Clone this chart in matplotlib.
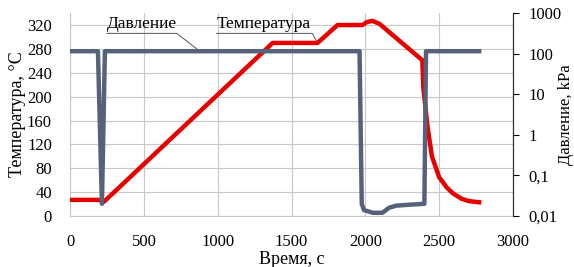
import matplotlib.pyplot as plt

plt.rcParams['font.family'] = ['Liberation Serif', 'DejaVu Serif']

# temperature, deg C
temp_t = [0, 200, 215, 230, 1372, 1676, 1811, 1980, 2010, 2047, 2095, 2385, 2392, 2420, 2450, 2499, 2550, 2592, 2650, 2700, 2770]
temp_v = [27, 27, 25, 24, 290, 290, 320, 320, 325, 327, 322, 261, 215, 150, 100, 65, 48, 38, 29, 25, 23]

# pressure, kPa
pres_t = [0, 189, 216, 236, 1960, 1975, 1990, 2050, 2115, 2160, 2209, 2300, 2399, 2410, 2770]
pres_v = [115, 115, 0.02, 115, 115, 0.02, 0.014, 0.012, 0.012, 0.016, 0.018, 0.019, 0.02, 115, 115]

fig = plt.figure(figsize=(5.74, 2.67), dpi=100)
ax = fig.add_axes([0.122, 0.191, 0.772, 0.760])
ax2 = ax.twinx()

grid_c = '#c8c8c8'
ax.set_xlim(0, 3000)
ax.set_ylim(0, 340)
ax.set_xticks(range(0, 3001, 500))
ax.set_yticks(range(0, 321, 40))
ax.grid(True, color=grid_c, lw=0.8)
ax.set_axisbelow(True)
ax.spines['top'].set_visible(False)
ax2.spines['top'].set_visible(False)
ax.spines['left'].set_color(grid_c)
ax.spines['bottom'].set_color(grid_c)
ax2.spines['left'].set_visible(False)
ax2.spines['bottom'].set_visible(False)
ax2.spines['right'].set_color('#333333')
ax.tick_params(axis='both', length=0, labelsize=12)
ax.tick_params(axis='y', pad=13)
ax.tick_params(axis='x', pad=13)

ax.plot(temp_t, temp_v, color='#e60000', lw=3.2, solid_joinstyle='round', zorder=3)
ax2.plot(pres_t, pres_v, color='#56627a', lw=3.2, zorder=4)

ax2.set_yscale('log')
ax2.set_ylim(0.01, 1000)
ax2.set_yticks([0.01, 0.1, 1, 10, 100, 1000])
ax2.set_yticklabels(['0,01', '0,1', '1', '10', '100', '1000'])
ax2.minorticks_off()
ax2.tick_params(axis='y', direction='out', length=4, labelsize=12, pad=7)

ax.set_xlabel('Время, с', fontsize=13, labelpad=1)
ax.set_ylabel('Температура, °C', fontsize=13, labelpad=1)
ax2.set_ylabel('Давление, kPa', fontsize=12)
ax2.yaxis.set_label_coords(1.102, 0.5)

ax2.set_zorder(ax.get_zorder() + 1)
ax2.patch.set_visible(False)

# data labels with leader lines
ax.text(250, 309, 'Давление', fontsize=12.5, ha='left', va='bottom', zorder=6)
ax.plot([250, 723, 858], [306, 306, 280], color='#555555', lw=0.7, zorder=6)
ax.text(993, 309, 'Температура', fontsize=12.5, ha='left', va='bottom', zorder=6)
ax.plot([993, 1640, 1669], [306, 306, 293], color='#555555', lw=0.7, zorder=6)

fig.savefig('out.png', dpi=100)
